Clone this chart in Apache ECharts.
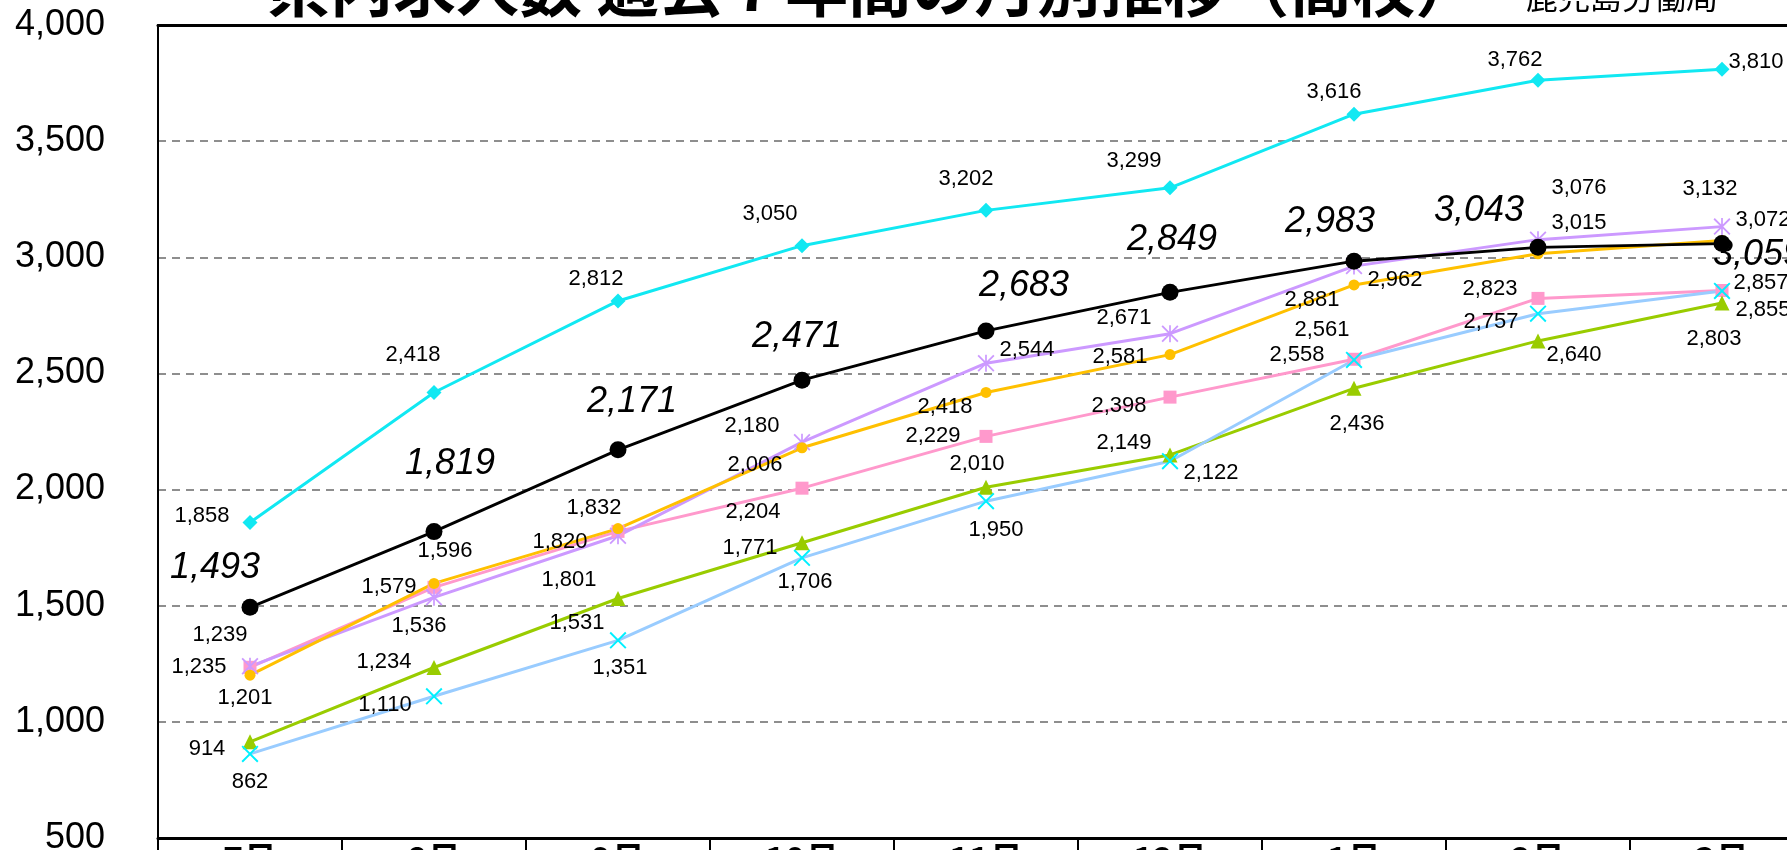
<!DOCTYPE html>
<html>
<head>
<meta charset="utf-8">
<script src="https://cdn.jsdelivr.net/npm/echarts@6/dist/echarts.min.js"></script>
<style>
html,body{margin:0;padding:0;background:#fff;}
#chart{width:1787px;height:850px;}
</style>
</head>
<body>
<div id="chart"></div>
<script>
// ---- data ----
const months = ['7月','8月','9月','10月','11月','12月','1月','2月','3月'];
const yTicks = [500, 4000, 500]; // min, max, interval
const titleText = '県内求人数 過去７年間の月別推移（高校）';
const sourceText = '鹿児島労働局';

const seriesCyan   = [1858, 2418, 2812, 3050, 3202, 3299, 3616, 3762, 3810];
const seriesBlack  = [1493, 1819, 2171, 2471, 2683, 2849, 2983, 3043, 3059];
const seriesPurple = [1239, 1536, 1801, 2204, 2544, 2671, 2962, 3076, 3132];
const seriesOrange = [1201, 1596, 1832, 2180, 2418, 2581, 2881, 3015, 3072];
const seriesPink   = [1235, 1579, 1820, 2006, 2229, 2398, 2561, 2823, 2857];
const seriesGreen  = [914, 1234, 1531, 1771, 2010, 2149, 2436, 2640, 2803];
const seriesBlue   = [862, 1110, 1351, 1706, 1950, 2122, 2558, 2757, 2855];

// ---- label placement (styling, separate from data) ----
const offCyan   = [[-48,-7],[-21,-38],[-22,-22],[-32,-32],[-20,-31],[-36,-27],[-20,-22],[-23,-20],[34,-7]];
const offBlack  = [[-35,-39],[16,-68],[14,-48],[-5,-43],[38,-45],[2,-52],[-24,-39],[-59,-36],[36,11]];
const offPurple = [[-30,-31],[-15,29],[-49,44],[-49,70],[41,-13],[-46,-16],[41,14],[41,-52],[-12,-38]];
const offOrange = [[-5,23],[11,-32],[-24,-21],[-50,-22],[-41,14],[-50,2],[-42,15],[41,-31],[41,-21]];
const offPink   = [[-51,0],[-45,0],[-58,11],[-47,-23],[-53,0],[-51,9],[-32,-29],[-48,-9],[39,-8]];
const offGreen  = [[-43,7],[-50,-6],[-41,24],[-52,5],[-9,-23],[-46,-12],[3,36],[36,14],[-8,36]];
const offBlue   = [[0,28],[-49,9],[2,28],[3,24],[10,29],[41,12],[-57,-5],[-47,8],[41,19]];

const fmt = v => Number(v).toLocaleString('en-US');

const asterisk = 'path://M9,0 L11,0 L11,20 L9,20 Z M0,1.5 L1.5,0 L20,18.5 L18.5,20 Z M18.5,0 L20,1.5 L1.5,20 L0,18.5 Z';
const xMark = 'path://M0,1.6 L1.6,0 L20,18.4 L18.4,20 Z M18.4,0 L20,1.6 L1.6,20 L0,18.4 Z';

function mk(name, values, offsets, opt) {
  return {
    name: name,
    type: 'line',
    data: values.map((v, i) => ({ value: v, label: { offset: offsets[i] } })),
    symbol: opt.symbol,
    symbolSize: opt.size,
    z: opt.z,
    lineStyle: { color: opt.line, width: opt.width || 3 },
    itemStyle: { color: opt.marker || opt.line, borderWidth: 0 },
    label: {
      show: true,
      position: 'inside',
      color: '#000',
      textBorderWidth: 0,
      fontFamily: 'Liberation Sans, Arial, sans-serif',
      fontSize: opt.fontSize || 22,
      fontStyle: opt.italic ? 'italic' : 'normal',
      formatter: p => fmt(p.value)
    },
    emphasis: { disabled: true },
    animation: false
  };
}

const chart = echarts.init(document.getElementById('chart'));
chart.setOption({
  backgroundColor: '#fff',
  animation: false,
  title: [
    { text: titleText, left: 262, top: -49,
      textStyle: { fontFamily: 'Noto Sans CJK JP', fontWeight: 'bold', fontSize: 63, color: '#000' } },
    { text: sourceText, left: 1521, top: -24,
      textStyle: { fontFamily: 'Noto Sans CJK JP', fontWeight: 'normal', fontSize: 32, color: '#000' } }
  ],
  grid: { left: 158, right: -27, top: 25, bottom: 12, containLabel: false, outerBoundsMode: 'none' },
  xAxis: [
    {
      type: 'category', data: months, boundaryGap: true,
      axisLine: { lineStyle: { color: '#000', width: 3 } },
      axisTick: { show: true, length: 30, lineStyle: { color: '#000', width: 2 } },
      axisLabel: { margin: 4, fontFamily: 'Noto Sans CJK JP', fontWeight: 'bold', fontSize: 34, color: '#000' },
      splitLine: { show: false }
    },
    {
      type: 'category', data: months, position: 'top',
      axisLine: { lineStyle: { color: '#000', width: 3 } },
      axisTick: { show: false }, axisLabel: { show: false }, splitLine: { show: false }
    }
  ],
  yAxis: {
    type: 'value', min: yTicks[0], max: yTicks[1], interval: yTicks[2],
    axisLine: { show: true, lineStyle: { color: '#000', width: 2 } },
    axisTick: { show: false },
    axisLabel: { margin: 53, fontFamily: 'Liberation Sans, Arial, sans-serif', fontSize: 36, color: '#000',
      formatter: v => fmt(v) },
    splitLine: { show: true, lineStyle: { color: '#6a6a6a', width: 1.5, type: [8, 6] } }
  },
  series: [
    mk('系列E', seriesPink,   offPink,   { line: '#FF99CC', symbol: 'rect', size: 13, z: 2 }),
    mk('系列D', seriesPurple, offPurple, { line: '#CC99FF', symbol: asterisk, size: 17, z: 2 }),
    mk('系列C', seriesOrange, offOrange, { line: '#FFC000', symbol: 'circle', size: 11, z: 2 }),
    mk('系列F', seriesGreen,  offGreen,  { line: '#99CC00', symbol: 'triangle', size: 15, z: 2 }),
    mk('系列G', seriesBlue,   offBlue,   { line: '#99CCFF', marker: '#00F0FF', symbol: xMark, size: 17, z: 2 }),
    mk('系列A', seriesCyan,   offCyan,   { line: '#11E8F2', symbol: 'diamond', size: 15, z: 2 }),
    mk('系列B', seriesBlack,  offBlack,  { line: '#000000', symbol: 'circle', size: 17, z: 3, width: 2.8, fontSize: 36, italic: true })
  ]
});
</script>
</body>
</html>
